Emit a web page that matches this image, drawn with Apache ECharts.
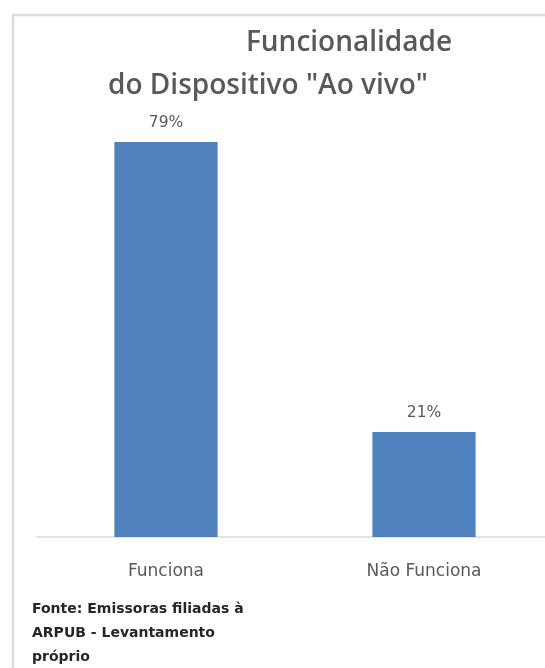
<!DOCTYPE html>
<html>
<head>
<meta charset="utf-8">
<script src="https://cdn.jsdelivr.net/npm/echarts@6/dist/echarts.min.js"></script>
<style>
  html, body { margin: 0; padding: 0; background: #ffffff; overflow: hidden; }
  #chart { width: 560px; height: 668px; }
</style>
</head>
<body>
<div id="chart"></div>
<script>
// Funcionalidade do dispositivo "Ao vivo" — share of stations
const categories = ['Funciona', 'Não Funciona'];
const values = [79, 21];
const titleLines = ['Funcionalidade', 'do Dispositivo "Ao vivo"'];
const sourceLines = ['Fonte: Emissoras filiadas à', 'ARPUB - Levantamento', 'próprio'];

// the plot frame runs on past the right edge of the window
const chart = echarts.init(document.getElementById('chart'));

chart.setOption({
  backgroundColor: '#ffffff',
  animation: false,
  title: [
    {
      text: titleLines[0],
      left: 344, top: 24, textAlign: 'center',
      textStyle: { fontFamily: 'Open Sans', fontSize: 28, fontWeight: 600, color: '#595959' }
    },
    {
      text: titleLines[1],
      left: 263, top: 67, textAlign: 'center',
      textStyle: { fontFamily: 'Open Sans', fontSize: 28, fontWeight: 600, color: '#595959' }
    }
  ],
  graphic: [
    {
      type: 'rect',
      shape: { x: 13, y: 15, width: 700, height: 800 },
      style: { fill: 'none', stroke: '#dcdcdc', lineWidth: 2.5 },
      silent: true
    },
    {
      type: 'text',
      left: 32, top: 597,
      style: {
        text: sourceLines.join('\n'),
        fontFamily: 'DejaVu Sans', fontSize: 14, fontWeight: 'bold',
        lineHeight: 24, fill: '#262626'
      }
    }
  ],
  grid: { left: 37, top: 37, width: 516, bottom: 131, containLabel: false },
  xAxis: {
    type: 'category',
    data: categories,
    axisLine: { show: true, lineStyle: { color: '#d9d9d9', width: 1.5 } },
    axisTick: { show: false },
    axisLabel: {
      margin: 26,
      fontFamily: 'DejaVu Sans', fontSize: 17, color: '#595959'
    }
  },
  yAxis: {
    type: 'value',
    min: 0, max: 100,
    show: false,
    splitLine: { show: false }
  },
  series: [{
    type: 'bar',
    data: values,
    barWidth: '40%',
    itemStyle: { color: '#4f81bd' },
    label: {
      show: true,
      position: 'top',
      distance: 11,
      formatter: '{c}%',
      fontFamily: 'DejaVu Sans', fontSize: 15.5, color: '#595959'
    }
  }]
});
</script>
</body>
</html>
